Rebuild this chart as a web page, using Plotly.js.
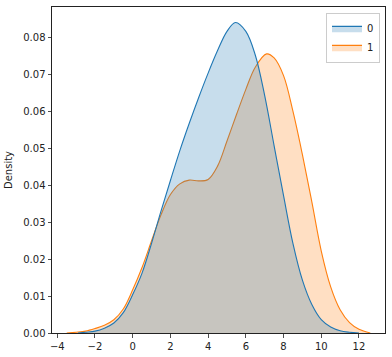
<!DOCTYPE html>
<html>
<head>
<meta charset="utf-8">
<script src="https://cdn.plot.ly/plotly-3.0.1.min.js"></script>
<style>html,body{margin:0;padding:0;background:#fff;}</style>
</head>
<body>
<div id="chart" style="width:392px;height:357px;"></div>
<script>
// KDE of group "0"
const x0 = [-2.9, -2.5, -2.0, -1.5, -1.0, -0.5, 0.0, 0.5, 1.0, 1.5, 2.0, 2.5, 3.0, 3.5, 4.0, 4.5, 5.0, 5.45, 6.0, 6.5, 7.0, 7.5, 8.0, 8.5, 9.0, 9.5, 10.0, 10.5, 11.0, 11.5, 12.0];
const y0 = [0.0, 0.0002, 0.0005, 0.0013, 0.0027, 0.0055, 0.0104, 0.0163, 0.0243, 0.0330, 0.0413, 0.0494, 0.0568, 0.0638, 0.0704, 0.0765, 0.0817, 0.0841, 0.0817, 0.0753, 0.0643, 0.0507, 0.0372, 0.0242, 0.0143, 0.0077, 0.0036, 0.0016, 0.0006, 0.0002, 0.0];
// KDE of group "1"
const x1 = [-3.5, -3.0, -2.5, -2.0, -1.5, -1.0, -0.5, 0.0, 0.5, 1.0, 1.5, 2.0, 2.5, 3.0, 3.5, 4.0, 4.5, 5.0, 5.5, 6.0, 6.5, 7.1, 7.5, 8.0, 8.5, 9.0, 9.5, 10.0, 10.5, 11.0, 11.5, 12.0, 12.6];
const y1 = [0.0, 0.0002, 0.0005, 0.0012, 0.0021, 0.0036, 0.0065, 0.0117, 0.0178, 0.0250, 0.0320, 0.0375, 0.0404, 0.0414, 0.0412, 0.0416, 0.0452, 0.0520, 0.0591, 0.0660, 0.0720, 0.0756, 0.0745, 0.0697, 0.0600, 0.0483, 0.0355, 0.0222, 0.0125, 0.0063, 0.0028, 0.0010, 0.0];
const seriesNames = ["0", "1"];
const xTicks = [-4, -2, 0, 2, 4, 6, 8, 10, 12];
const yTicks = [0.00, 0.01, 0.02, 0.03, 0.04, 0.05, 0.06, 0.07, 0.08];

const colors = ['#1f77b4', '#ff7f0e'];
const fills = ['rgba(31,119,180,0.25)', 'rgba(255,127,14,0.25)'];

// group "1" is drawn first, group "0" on top (as seaborn layers them)
const traces = [
  {x: x1, y: y1, name: seriesNames[1], type: 'scatter', mode: 'lines', showlegend: false,
   line: {color: colors[1], width: 1.1, shape: 'spline', smoothing: 1},
   fill: 'tozeroy', fillcolor: fills[1]},
  {x: x0, y: y0, name: seriesNames[0], type: 'scatter', mode: 'lines', showlegend: false,
   line: {color: colors[0], width: 1.1, shape: 'spline', smoothing: 1},
   fill: 'tozeroy', fillcolor: fills[0]},
  // legend entries (patches)
  {x: [null], y: [null], name: seriesNames[0], type: 'scatter', mode: 'lines',
   line: {color: colors[0], width: 1.1}, fill: 'toself', fillcolor: fills[0]},
  {x: [null], y: [null], name: seriesNames[1], type: 'scatter', mode: 'lines',
   line: {color: colors[1], width: 1.1}, fill: 'toself', fillcolor: fills[1]}
];

const axisCommon = {
  showgrid: false, zeroline: false, showline: true, linecolor: '#222', linewidth: 1,
  mirror: true, ticks: 'outside', ticklen: 3.5, tickwidth: 0.8, tickcolor: '#222',
  tickfont: {family: 'DejaVu Sans', size: 10, color: '#222'}
};

const layout = {
  width: 392, height: 357,
  margin: {l: 52, r: 7, t: 7, b: 24},
  paper_bgcolor: '#fff', plot_bgcolor: '#fff',
  showlegend: true,
  legend: {x: 0.985, xanchor: 'right', y: 0.982, yanchor: 'top',
    bordercolor: '#ccc', borderwidth: 1, bgcolor: 'rgba(255,255,255,0.8)',
    font: {family: 'DejaVu Sans', size: 10, color: '#222'},
    itemwidth: 30, tracegroupgap: 0},
  xaxis: Object.assign({}, axisCommon, {range: [-4.28, 13.38], tickvals: xTicks, ticktext: xTicks.map(String).map(s => s.replace('-', '\u2212'))}),
  yaxis: Object.assign({}, axisCommon, {range: [0, 0.0883], tickvals: yTicks, ticktext: yTicks.map(v => v.toFixed(2)),
    title: {text: 'Density', font: {family: 'DejaVu Sans', size: 10, color: '#222'}, standoff: 8}})
};

Plotly.newPlot('chart', traces, layout, {displayModeBar: false, staticPlot: true});
</script>
</body>
</html>
